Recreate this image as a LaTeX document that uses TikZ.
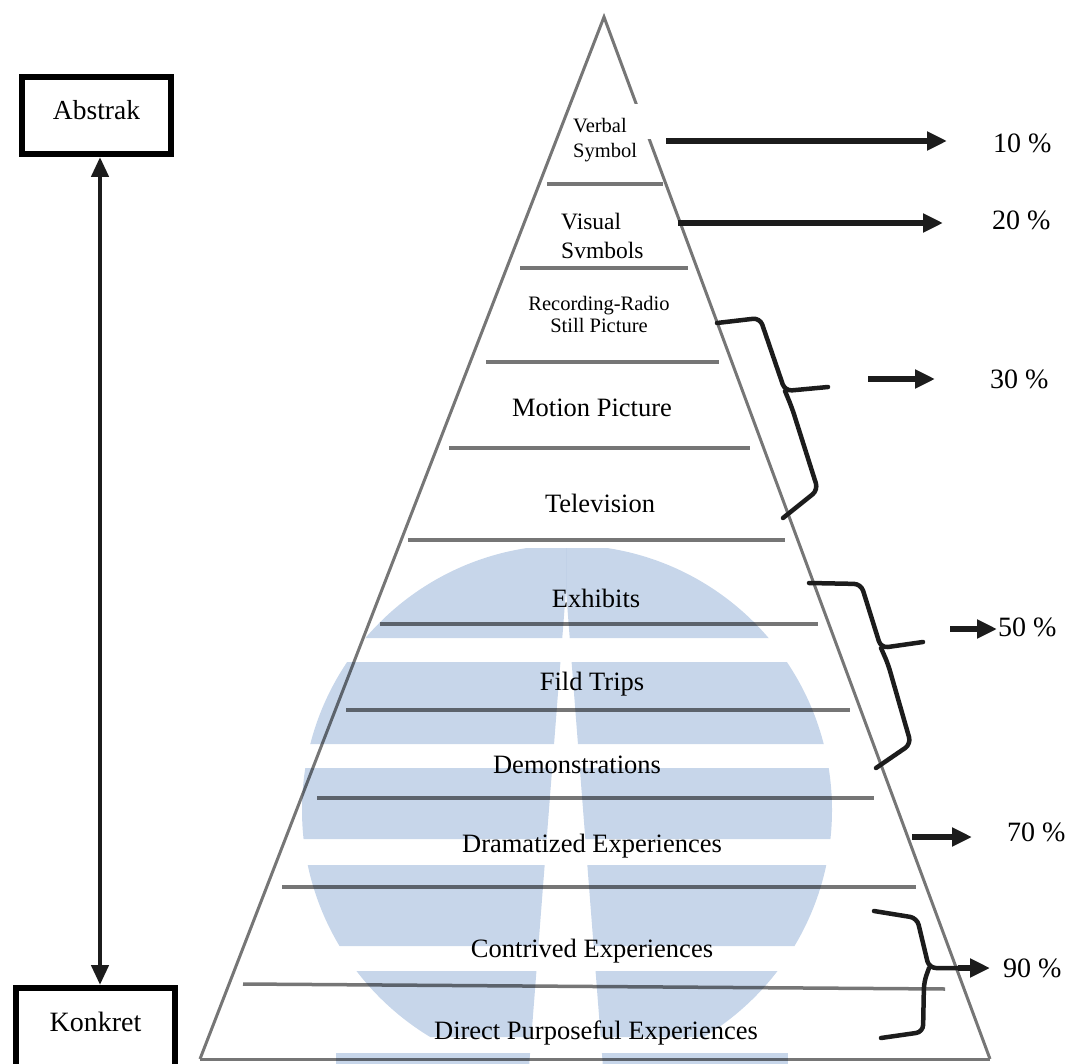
\documentclass[tikz,border=0pt]{standalone}
\usepackage{fontspec}
\setmainfont{Liberation Serif}
\usetikzlibrary{arrows.meta}
\definecolor{linegray}{RGB}{118,118,118}
\definecolor{ink}{RGB}{28,28,28}
\definecolor{wm}{RGB}{199,214,234}
\newcommand\wmbands{%
  \begin{scope}
    \clip (567,810) circle [radius=265pt];
    \fill[wm] (0,548) rectangle (1070,638)
              (0,662) rectangle (1070,744)
              (0,768) rectangle (1070,839)
              (0,865) rectangle (1070,946)
              (0,971) rectangle (1070,1037);
  \end{scope}
  \fill[wm] (336,1053) rectangle (788,1075);
}
\begin{document}
\begin{tikzpicture}[x=1pt,y=-1pt,
  lay/.style={font=\fontsize{26.5}{30}\selectfont, inner sep=0pt, text depth=0pt},
  pct/.style={font=\fontsize{28}{32}\selectfont, inner sep=0pt, anchor=west, text depth=0pt},
  pyredge/.style={draw=linegray, line width=3pt},
  sepline/.style={draw=linegray, line width=3.5pt},
  arr/.style={draw=ink, line width=5.5pt, -{Triangle[length=20pt,width=18pt]}},
  dbl/.style={draw=ink, line width=4.5pt, {Triangle[length=20pt,width=17pt]}-{Triangle[length=20pt,width=17pt]}},
  brc/.style={draw=ink, line width=4.5pt, rounded corners=7pt, line cap=round},
  lbox/.style={draw=black, line width=6pt, inner sep=0pt}
]
\useasboundingbox (0,0) rectangle (1070,1064);

% pyramid outline
\coordinate (apex) at (604,17);
\coordinate (bl) at (200,1059);
\coordinate (br) at (990,1059);
\draw[pyredge] (bl) -- (apex) -- (br);
\draw[pyredge] (bl) -- (br);
\fill[white] (630,104) rectangle (657,139);

% separating lines
\draw[sepline] (547,184) -- (663,184);
\draw[sepline] (520,268) -- (688,268);
\draw[sepline] (486,362) -- (719,362);
\draw[sepline] (449,448) -- (750,448);
\draw[sepline] (408,540) -- (785,540);
\draw[sepline] (380,624) -- (818,624);
\draw[sepline] (346,710) -- (850,710);
\draw[sepline] (317,798) -- (874,798);
\draw[sepline] (282,887) -- (916,887);
\draw[sepline] (243,984) -- (945,989);

% layer texts
\node[lay, font=\fontsize{20.5}{25}\selectfont, align=left, anchor=west] (verbal) at (573,138) {Verbal\\Symbol};
\node[lay, font=\fontsize{23.5}{29}\selectfont, align=left, anchor=west] (visual) at (561,236) {Visual\\Svmbols};
\node[lay, font=\fontsize{20.5}{22}\selectfont, align=center] (record) at (599,314) {Recording-Radio\\Still Picture};
\node[lay] (motion) at (592,408) {Motion Picture};
\node[lay] (tv) at (600,503) {Television};
\node[lay] (exh) at (596,598) {Exhibits};
\node[lay] (fild) at (592,681) {Fild Trips};
\node[lay] (demo) at (577,765) {Demonstrations};
\node[lay] (drama) at (592,843) {Dramatized Experiences};
\node[lay] (contr) at (592,948) {Contrived Experiences};
\node[lay] (direct) at (596,1030) {Direct Purposeful Experiences};

% left boxes
\node[lbox, minimum width=149pt, minimum height=77pt, text depth=11pt,
      font=\fontsize{27.5}{30}\selectfont] (abs) at (96.5,115.5) {Abstrak};
\node[lbox, minimum width=159pt, minimum height=87pt, text depth=19pt,
      font=\fontsize{28}{30}\selectfont] (kon) at (95.5,1031.5) {Konkret};
\coordinate (ax) at (100,0);
\draw[dbl] (abs.south -| ax) -- (kon.north -| ax);

% percentages
\node[pct] (p10) at (993,143) {10 \%};
\node[pct] (p20) at (992,220) {20 \%};
\node[pct] (p30) at (990,379) {30 \%};
\node[pct] (p50) at (998,627) {50 \%};
\node[pct] (p70) at (1007,832) {70 \%};
\node[pct] (p90) at (1003,968) {90 \%};

\coordinate (a10s) at (666,141); \coordinate (a10e) at (947,141);
\coordinate (a20s) at (678,223); \coordinate (a20e) at (943,223);
\coordinate (a30s) at (868,379); \coordinate (a30e) at (935,379);
\coordinate (a50s) at (950,629); \coordinate (a50e) at (997,629);
\coordinate (a70s) at (912,837); \coordinate (a70e) at (972,837);
\coordinate (a90s) at (958,968); \coordinate (a90e) at (990,968);
\draw[arr] (a10s) -- (a10e);
\draw[arr] (a20s) -- (a20e);
\draw[arr] (a30s) -- (a30e);
\draw[arr] (a50s) -- (a50e);
\draw[arr] (a70s) -- (a70e);
\draw[arr] (a90s) -- (a90e);

% braces
\draw[brc] (717,323) -- (760,318) -- (785,391) -- (828,387);
\draw[brc] (785,391) -- (792,408) -- (818,490) -- (783,518);
\draw[brc] (809,583) -- (861,584) -- (881,648) -- (923,642);
\draw[brc] (881,648) -- (888,664) -- (911,744) -- (876,768);
\draw[brc] (874,911) -- (917,918) -- (929,968) -- (958,968);
\draw[brc] (929,968) -- (924,982) -- (923,1032) -- (881,1038);

% watermark
\begin{scope}[blend mode=multiply]
  \begin{scope}
    \clip (0,0) -- (566,0) -- (566,590) -- (528,1080) -- (0,1080) -- cycle;
    \wmbands
  \end{scope}
  \begin{scope}
    \clip (566,0) -- (1070,0) -- (1070,1080) -- (604,1080) -- (566,590) -- cycle;
    \wmbands
  \end{scope}
\end{scope}
\end{tikzpicture}
\end{document}
